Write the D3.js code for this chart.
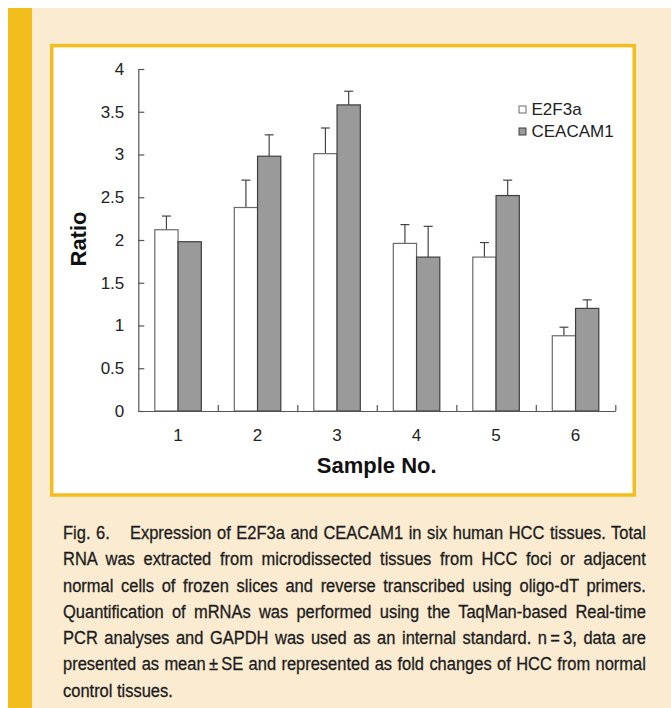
<!DOCTYPE html>
<html>
<head>
<meta charset="utf-8">
<script src="https://cdn.jsdelivr.net/npm/d3@7"></script>
<style>
  body { margin: 0; background: #fff; }
  #wrap { position: relative; width: 671px; height: 708px; overflow: hidden; }
  #caption {
    position: absolute; left: 63px; top: 520px; width: 637px;
    transform: scaleX(0.915); transform-origin: 0 0;
    font-family: "Liberation Sans", Arial, sans-serif;
    font-size: 18px; line-height: 26.3px; color: #1c1c1c;
    -webkit-text-stroke: 0.3px #1c1c1c;
  }
  #caption div { text-align: justify; text-align-last: justify; white-space: nowrap; }
  #caption div.last { text-align-last: left; }
</style>
</head>
<body>
<div id="wrap"></div>
<script>
const samples = ['1', '2', '3', '4', '5', '6']
const series = ['E2F3a', 'CEACAM1']
const e2f3a = [2.12, 2.38, 3.01, 1.96, 1.80, 0.88]
const e2f3aSE = [0.16, 0.32, 0.30, 0.22, 0.17, 0.10]
const ceacam1 = [1.98, 2.98, 3.58, 1.80, 2.52, 1.20]
const ceacam1SE = [0, 0.25, 0.16, 0.36, 0.18, 0.10]
const yTicks = [0, 0.5, 1, 1.5, 2, 2.5, 3, 3.5, 4]
const captionLines = [
  'Expression of E2F3a and CEACAM1 in six human HCC tissues. Total',
  'RNA was extracted from microdissected tissues from HCC foci or adjacent',
  'normal cells of frozen slices and reverse transcribed using oligo-dT primers.',
  'Quantification of mRNAs was performed using the TaqMan-based Real-time',
  'PCR analyses and GAPDH was used as an internal standard. n\u2009=\u20093, data are',
  'presented as mean\u2009\u00b1\u2009SE and represented as fold changes of HCC from normal',
  'control tissues.'
]

const W = 671, H = 708
const font = '"Liberation Sans", Arial, sans-serif'

let wrap = d3.select('#wrap')
let svg = wrap.append('svg')
  .attr('width', W)
  .attr('height', H)
  .style('display', 'block')

// page background + yellow side bar
svg.append('rect').attr('x', 8).attr('y', 8).attr('width', W - 8).attr('height', H - 8).attr('fill', '#faebd1')
svg.append('rect').attr('x', 8).attr('y', 8).attr('width', 24).attr('height', H - 8).attr('fill', '#f1bd1c')

// framed figure box
svg.append('rect')
  .attr('x', 51.75).attr('y', 45.6)
  .attr('width', 582.5).attr('height', 449.4)
  .attr('fill', '#fff')
  .attr('stroke', '#f3be1e')
  .attr('stroke-width', 3.5)

let x = d3.scaleBand().domain(samples).range([138.3, 615.3]).padding(0)
let xEdge = d3.scaleLinear().domain([0, samples.length]).range([138.3, 615.3])
let xs = d3.scaleBand().domain(series).range([16.5, 63])
let y = d3.scaleLinear().domain([0, 4]).range([411, 69])

let rows = samples.map((s, i) => ({
  sample: s,
  vals: [
    { key: 'E2F3a', v: e2f3a[i], se: e2f3aSE[i] },
    { key: 'CEACAM1', v: ceacam1[i], se: ceacam1SE[i] }
  ]
}))

let fill = { E2F3a: '#ffffff', CEACAM1: '#9a9a9a' }
let edge = { E2F3a: '#6a6a6a', CEACAM1: '#3e3e3e' }

let plot = svg.append('g')

let groups = plot.selectAll('.grp').data(rows)
  .enter().append('g')
  .attr('class', 'grp')
  .attr('transform', d => `translate(${x(d.sample)},0)`)

// error bars (upper only)
groups.selectAll('.err').data(d => d.vals.filter(v => v.se > 0))
  .enter().append('g')
  .attr('class', 'err')
  .call(g => g.append('line')
    .attr('x1', d => xs(d.key) + xs.bandwidth() / 2)
    .attr('x2', d => xs(d.key) + xs.bandwidth() / 2)
    .attr('y1', d => y(d.v))
    .attr('y2', d => y(d.v + d.se)))
  .call(g => g.append('line')
    .attr('x1', d => xs(d.key) + xs.bandwidth() / 2 - 4.5)
    .attr('x2', d => xs(d.key) + xs.bandwidth() / 2 + 4.5)
    .attr('y1', d => y(d.v + d.se))
    .attr('y2', d => y(d.v + d.se)))
  .selectAll('line')
  .attr('stroke', '#444')
  .attr('stroke-width', 1.2)

groups.selectAll('.bar').data(d => d.vals)
  .enter().append('rect')
  .attr('class', 'bar')
  .attr('x', d => xs(d.key))
  .attr('y', d => y(d.v))
  .attr('width', xs.bandwidth())
  .attr('height', d => y(0) - y(d.v))
  .attr('fill', d => fill[d.key])
  .attr('stroke', d => edge[d.key])
  .attr('stroke-width', 1.2)

// y axis
svg.append('g')
  .attr('transform', 'translate(138.3,0)')
  .call(d3.axisLeft(y).tickValues(yTicks).tickSize(-6).tickSizeOuter(0).tickPadding(14).tickFormat(d3.format('')))
  .call(g => g.selectAll('.domain, .tick line').attr('stroke', '#555').attr('stroke-width', 1.2))
  .call(g => g.selectAll('.tick text').attr('font-family', font).attr('font-size', 17).attr('fill', '#222'))

// x axis: boundary ticks pointing up
svg.append('g')
  .attr('transform', 'translate(0,411)')
  .call(d3.axisBottom(xEdge).tickValues(d3.range(1, samples.length + 1)).tickSize(-6).tickSizeOuter(0).tickFormat(''))
  .call(g => g.selectAll('.domain, .tick line').attr('stroke', '#555').attr('stroke-width', 1.2))

// x labels
svg.append('g')
  .attr('transform', 'translate(0,411)')
  .call(d3.axisBottom(x).tickSize(0).tickPadding(18))
  .call(g => g.select('.domain').remove())
  .call(g => g.selectAll('.tick text').attr('font-family', font).attr('font-size', 17).attr('fill', '#222'))

// axis titles
svg.append('text')
  .attr('transform', 'translate(86,239) rotate(-90)')
  .attr('text-anchor', 'middle')
  .attr('font-family', font)
  .attr('font-weight', 'bold')
  .attr('font-size', 22)
  .attr('fill', '#111')
  .text('Ratio')

svg.append('text')
  .attr('x', 376.7).attr('y', 473.3)
  .attr('text-anchor', 'middle')
  .attr('font-family', font)
  .attr('font-weight', 'bold')
  .attr('font-size', 22)
  .attr('fill', '#111')
  .text('Sample No.')

// legend
let legend = svg.append('g').attr('transform', 'translate(519,0)')
let legY = d3.scalePoint().domain(series).range([109.5, 131.5])
legend.selectAll('rect').data(series)
  .enter().append('rect')
  .attr('x', 0)
  .attr('y', d => legY(d) - 3.5)
  .attr('width', 7).attr('height', 7)
  .attr('fill', d => fill[d])
  .attr('stroke', d => edge[d])
  .attr('stroke-width', 1)
legend.selectAll('text').data(series)
  .enter().append('text')
  .attr('x', 12.5)
  .attr('y', d => legY(d))
  .attr('dy', '0.35em')
  .attr('font-family', font)
  .attr('font-size', 17)
  .attr('fill', '#222')
  .text(d => d)

// caption (condensed by scaling, justified per line)
let cap = wrap.append('div').attr('id', 'caption')
cap.selectAll('div').data(captionLines)
  .enter().append('div')
  .attr('class', (d, i) => i === captionLines.length - 1 ? 'last' : null)
  .each(function(d, i) {
    let el = d3.select(this)
    if (i === 0) {
      el.append('span').style('margin-right', '16px').text('Fig. 6.')
      el.append('span').text(' ' + d)
    } else {
      el.text(d)
    }
  })
</script>
</body>
</html>
